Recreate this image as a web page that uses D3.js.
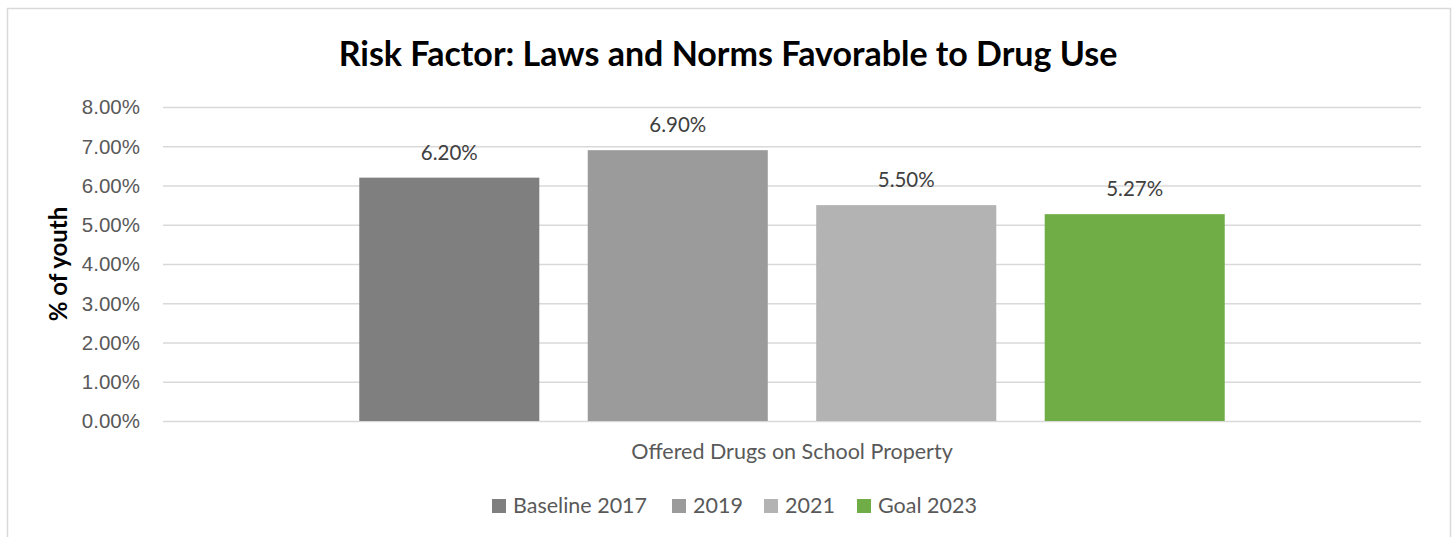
<!DOCTYPE html>
<html>
<head>
<meta charset="utf-8">
<script src="https://cdn.jsdelivr.net/npm/d3@7"></script>
<style>
  body { margin: 0; background: #fff; }
  svg { display: block; font-family: Lato, "Liberation Sans", sans-serif; }
</style>
</head>
<body>
<svg id="chart" width="1455" height="537"></svg>
<script>
'use strict';

// data
const categories = ['Offered Drugs on School Property'];
const series = ['Baseline 2017', '2019', '2021', 'Goal 2023'];
const values = [0.062, 0.069, 0.055, 0.0527];
const valueLabels = ['6.20%', '6.90%', '5.50%', '5.27%'];
const yTicks = [0, 0.01, 0.02, 0.03, 0.04, 0.05, 0.06, 0.07, 0.08];
const colors = ['#7f7f7f', '#9b9b9b', '#b3b3b3', '#70ad47'];

const svg = d3.select('#chart');

// chart frame
svg.append('rect')
    .attr('x', 7.5).attr('y', 8.5)
    .attr('width', 1443).attr('height', 540)
    .attr('fill', '#fff')
    .attr('stroke', '#d9d9d9')
    .attr('stroke-width', 1.5);

const plot = { left: 163, right: 1421, top: 107, bottom: 421 };

const y = d3.scaleLinear().domain([0, 0.08]).range([plot.bottom, plot.top]);
const x0 = d3.scaleBand().domain(categories).range([plot.left, plot.right]);
const x1 = d3.scaleBand().domain(series).range([0, x0.bandwidth()])
    .paddingInner(0.212).paddingOuter(0.859);

// gridlines + tick labels
const yAxis = d3.axisLeft(y).tickValues(yTicks)
    .tickSize(-(plot.right - plot.left))
    .tickPadding(23)
    .tickFormat(d3.format('.2%'));

const ga = svg.append('g')
    .attr('transform', 'translate(' + plot.left + ',0)')
    .call(yAxis);
ga.select('.domain').remove();
ga.selectAll('.tick line').attr('stroke', '#d9d9d9').attr('stroke-width', 1.5);
ga.selectAll('.tick text')
    .attr('fill', '#595959')
    .attr('font-size', 20.5)
    .attr('dy', '0.34em');

// bars
const grp = svg.selectAll('g.cat').data(categories).enter().append('g')
    .attr('class', 'cat')
    .attr('transform', (d) => 'translate(' + x0(d) + ',0)');

grp.selectAll('rect').data(series).enter().append('rect')
    .attr('x', (d) => x1(d))
    .attr('y', (d, i) => y(values[i]))
    .attr('width', x1.bandwidth())
    .attr('height', (d, i) => y(0) - y(values[i]))
    .attr('fill', (d, i) => colors[i]);

// value labels
grp.selectAll('text.val').data(series).enter().append('text')
    .attr('class', 'val')
    .attr('x', (d) => x1(d) + x1.bandwidth() / 2)
    .attr('y', (d, i) => y(values[i]) - 18)
    .attr('text-anchor', 'middle')
    .attr('font-size', 20.5)
    .attr('fill', '#404040')
    .text((d, i) => valueLabels[i]);

// category label
svg.selectAll('text.cat').data(categories).enter().append('text')
    .attr('class', 'cat')
    .attr('x', (d) => x0(d) + x0.bandwidth() / 2)
    .attr('y', 459)
    .attr('text-anchor', 'middle')
    .attr('font-size', 21.5)
    .attr('fill', '#595959')
    .text((d) => d);

// title
svg.append('text')
    .attr('x', 728).attr('y', 66)
    .attr('text-anchor', 'middle')
    .attr('font-size', 34)
    .attr('font-weight', 'bold')
    .attr('fill', '#000')
    .text('Risk Factor: Laws and Norms Favorable to Drug Use');

// y axis title
svg.append('text')
    .attr('transform', 'translate(67,264) rotate(-90)')
    .attr('text-anchor', 'middle')
    .attr('font-size', 24)
    .attr('font-weight', 'bold')
    .attr('fill', '#000')
    .text('% of youth');

// legend
const legendX = [492, 672, 764, 857];
const lg = svg.selectAll('g.leg').data(series).enter().append('g')
    .attr('class', 'leg')
    .attr('transform', (d, i) => 'translate(' + legendX[i] + ',499)');
lg.append('rect')
    .attr('width', 14).attr('height', 14)
    .attr('fill', (d, i) => colors[i]);
lg.append('text')
    .attr('x', 21).attr('y', 14)
    .attr('font-size', 21.5)
    .attr('fill', '#595959')
    .text((d) => d);
</script>
</body>
</html>
